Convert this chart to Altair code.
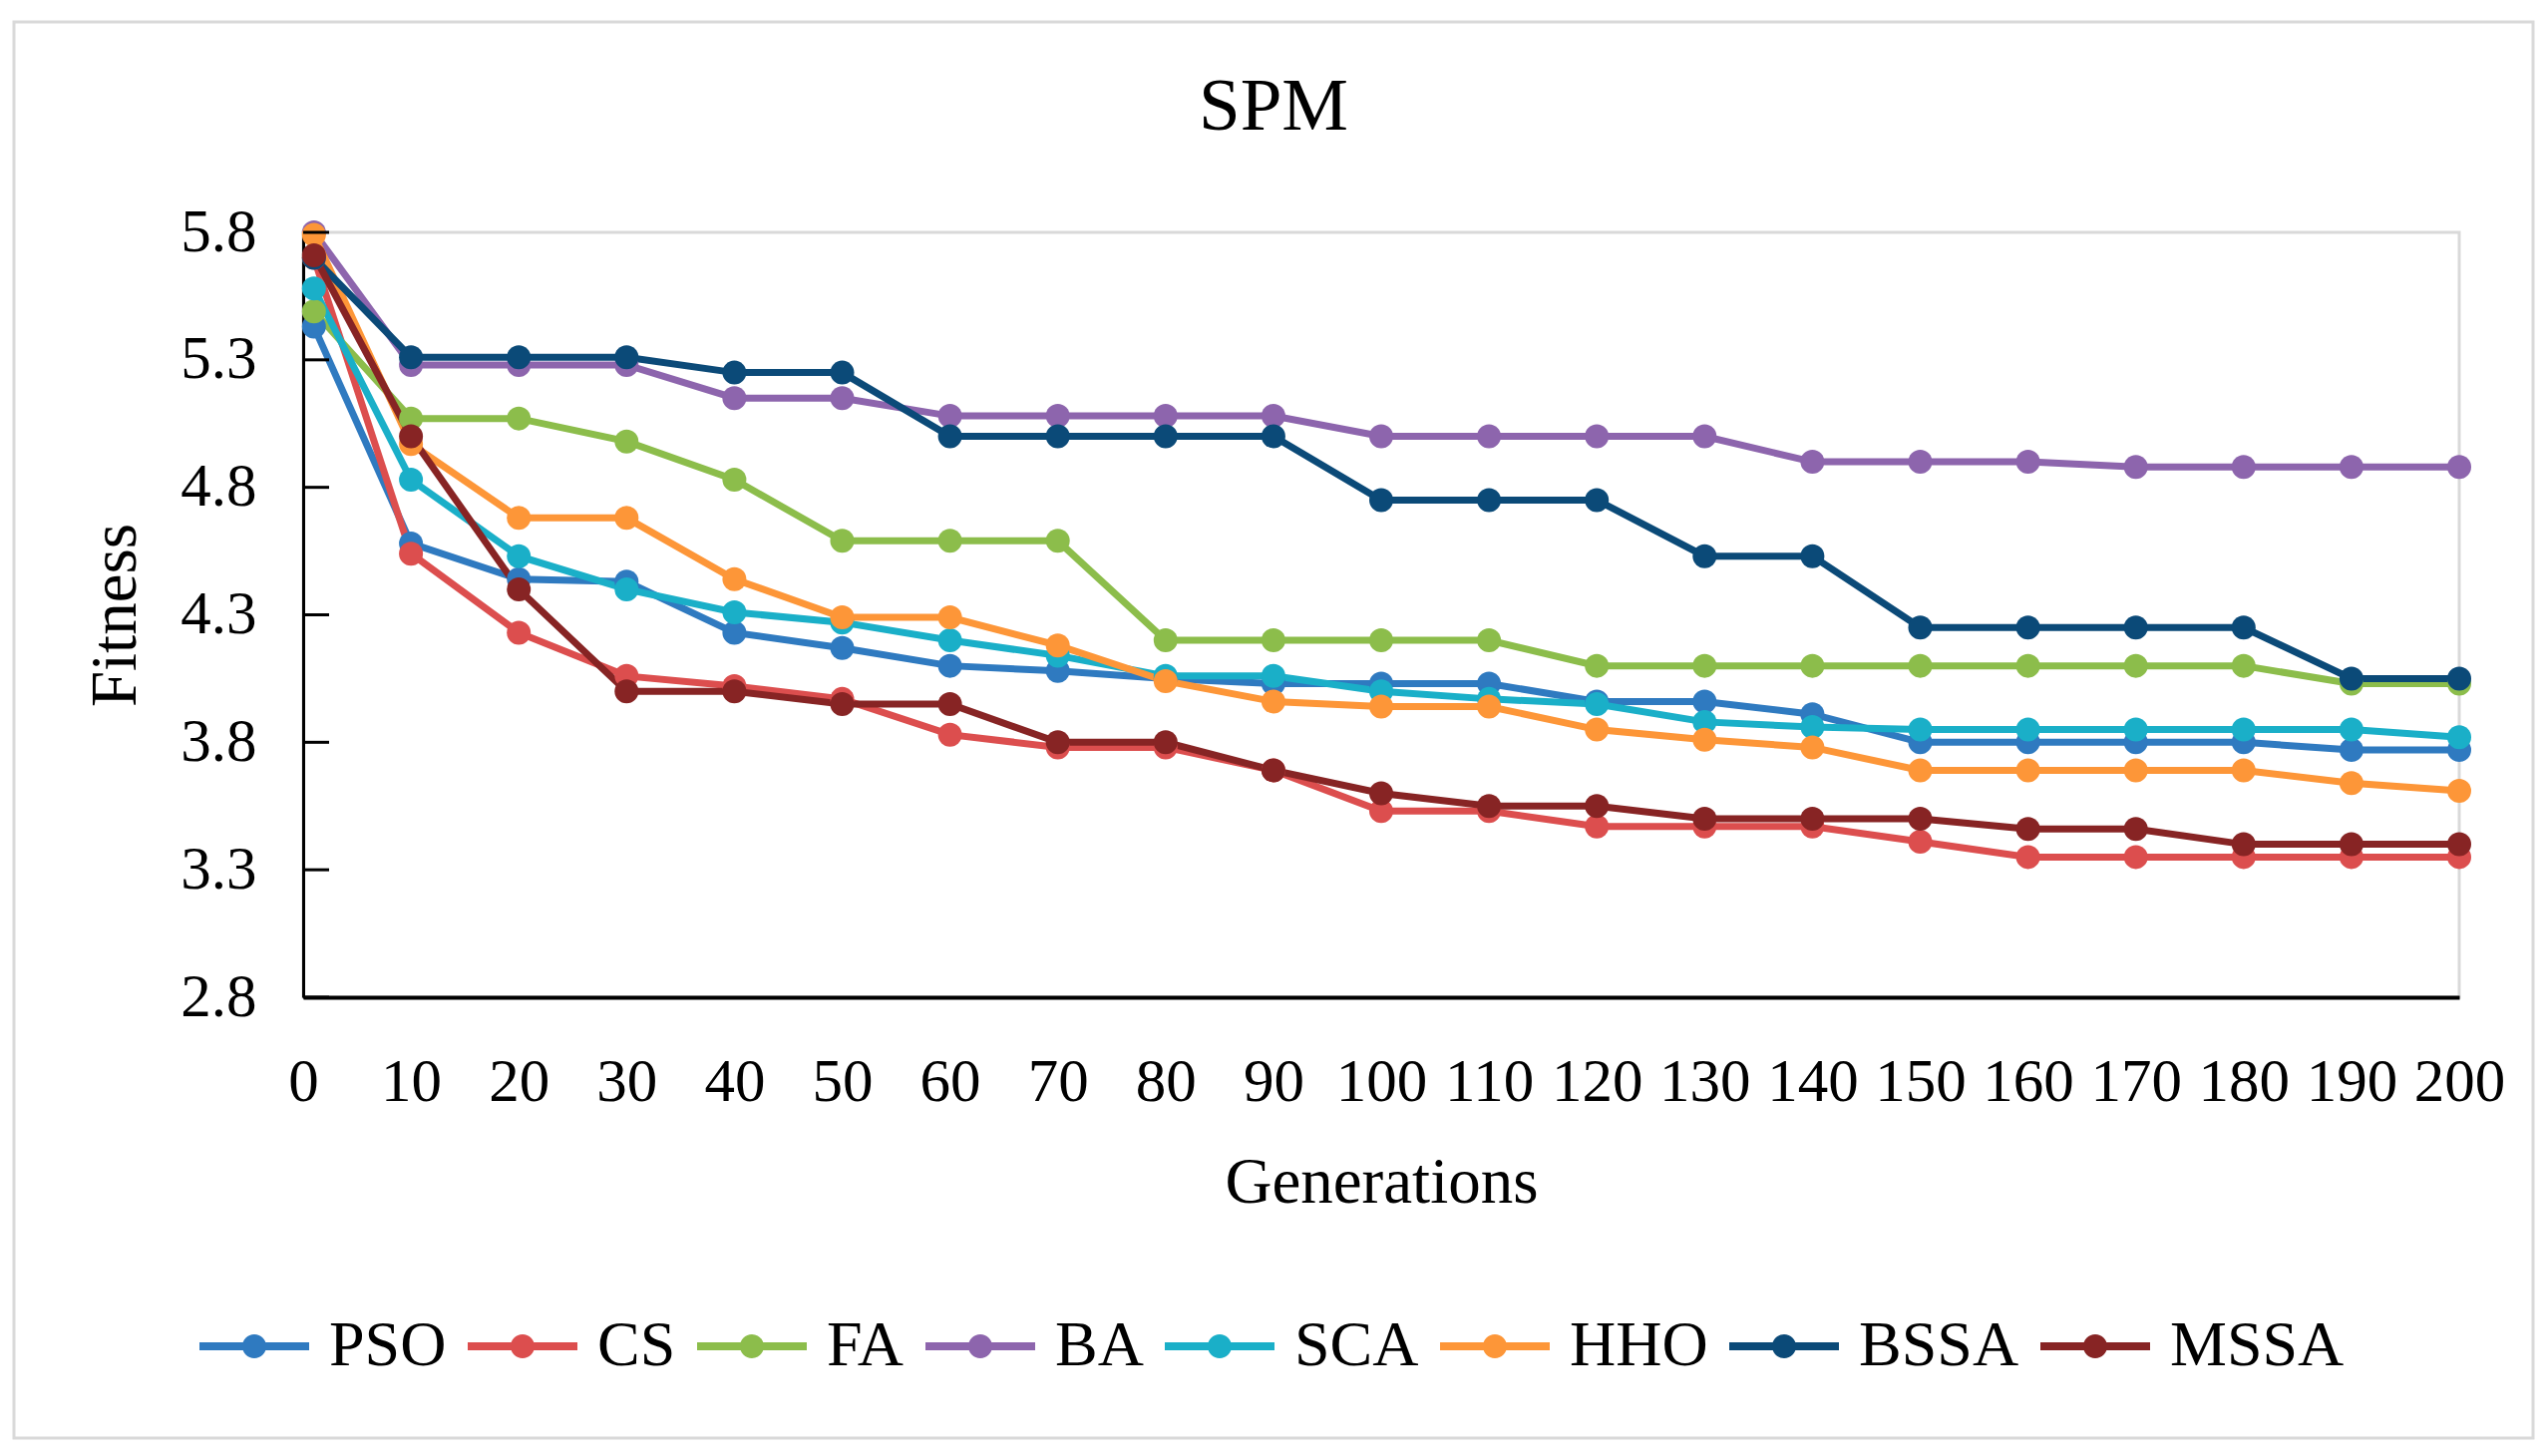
import altair as alt
import pandas as pd

generations = [1, 10, 20, 30, 40, 50, 60, 70, 80, 90, 100,
               110, 120, 130, 140, 150, 160, 170, 180, 190, 200]

series_names = ["PSO", "CS", "FA", "BA", "SCA", "HHO", "BSSA", "MSSA"]
series_colors = ["#2f7ac0", "#dc4e4e", "#8cbd4b", "#8d65ad",
                 "#1aafc8", "#fd9638", "#0b4a78", "#872424"]

PSO = [5.43, 4.58, 4.44, 4.43, 4.23, 4.17, 4.10, 4.08, 4.05, 4.03, 4.03,
       4.03, 3.96, 3.96, 3.91, 3.80, 3.80, 3.80, 3.80, 3.77, 3.77]
CS = [5.70, 4.54, 4.23, 4.06, 4.02, 3.97, 3.83, 3.78, 3.78, 3.69, 3.53,
      3.53, 3.47, 3.47, 3.47, 3.41, 3.35, 3.35, 3.35, 3.35, 3.35]
FA = [5.49, 5.07, 5.07, 4.98, 4.83, 4.59, 4.59, 4.59, 4.20, 4.20, 4.20,
      4.20, 4.10, 4.10, 4.10, 4.10, 4.10, 4.10, 4.10, 4.03, 4.03]
BA = [5.80, 5.28, 5.28, 5.28, 5.15, 5.15, 5.08, 5.08, 5.08, 5.08, 5.00,
      5.00, 5.00, 5.00, 4.90, 4.90, 4.90, 4.88, 4.88, 4.88, 4.88]
SCA = [5.58, 4.83, 4.53, 4.40, 4.31, 4.27, 4.20, 4.14, 4.06, 4.06, 4.00,
       3.97, 3.95, 3.88, 3.86, 3.85, 3.85, 3.85, 3.85, 3.85, 3.82]
HHO = [5.79, 4.97, 4.68, 4.68, 4.44, 4.29, 4.29, 4.18, 4.04, 3.96, 3.94,
       3.94, 3.85, 3.81, 3.78, 3.69, 3.69, 3.69, 3.69, 3.64, 3.61]
BSSA = [5.70, 5.31, 5.31, 5.31, 5.25, 5.25, 5.00, 5.00, 5.00, 5.00, 4.75,
        4.75, 4.75, 4.53, 4.53, 4.25, 4.25, 4.25, 4.25, 4.05, 4.05]
MSSA = [5.71, 5.00, 4.40, 4.00, 4.00, 3.95, 3.95, 3.80, 3.80, 3.69, 3.60,
        3.55, 3.55, 3.50, 3.50, 3.50, 3.46, 3.46, 3.40, 3.40, 3.40]

x_ticks = list(range(0, 201, 10))
y_ticks = [2.8, 3.3, 3.8, 4.3, 4.8, 5.3, 5.8]

FONT = "Liberation Serif"

all_series = [PSO, CS, FA, BA, SCA, HHO, BSSA, MSSA]
rows = []
for i, (name, vals) in enumerate(zip(series_names, all_series)):
    for g, v in zip(generations, vals):
        rows.append({"Algorithm": name, "Generation": g, "Fitness": v, "ord": i})
df = pd.DataFrame(rows)
tick_df = pd.DataFrame({"Fitness": y_ticks})
frame_df = pd.DataFrame({"a": [0]})

xscale = alt.Scale(domain=[0, 200], nice=False, zero=False)
yscale = alt.Scale(domain=[2.8, 5.8], nice=False, zero=False)

x_axis = alt.Axis(values=x_ticks, title="Generations", grid=False, ticks=False,
                  domainColor="black", domainWidth=4,
                  labelFont=FONT, labelFontSize=61, labelColor="black",
                  labelBaseline="alphabetic", labelPadding=103,
                  labelOverlap=False, labelFlush=False,
                  titleFont=FONT, titleFontSize=65, titleFontWeight="normal",
                  titleColor="black", titleY=205, titleBaseline="alphabetic")
y_axis = alt.Axis(values=y_ticks, format=".1f", title="Fitness", grid=False,
                  ticks=False, domainColor="black", domainWidth=3,
                  labelFont=FONT, labelFontSize=61, labelColor="black",
                  labelPadding=47, labelOverlap=False, labelFlush=False,
                  titleFont=FONT, titleFontSize=65, titleFontWeight="normal",
                  titleColor="black", titleX=-169, titleY=383.5,
                  titleAngle=270, titleAlign="center", titleBaseline="alphabetic")

legend_path = ("M-1,-0.073L1,-0.073L1,0.073L-1,0.073Z "
               "M-0.218,0A0.218,0.218 0 1,1 0.218,0A0.218,0.218 0 1,1 -0.218,0Z")

legend = alt.Legend(orient="none", legendX=-104, legendY=1062,
                    direction="horizontal", columns=8, title=None,
                    symbolType=legend_path, symbolSize=12100,
                    symbolStrokeWidth=0, symbolOpacity=1,
                    labelFont=FONT, labelFontSize=64, labelColor="black",
                    labelLimit=500, labelOffset=20, columnPadding=21, padding=0)

frame = alt.Chart(frame_df).mark_rect(
    filled=False, stroke="#d9d9d9", strokeWidth=3
).encode(x=alt.value(-290), x2=alt.value(2236), y=alt.value(-211), y2=alt.value(1209))

lines = alt.Chart(df).mark_line(strokeWidth=7).encode(
    x=alt.X("Generation:Q", scale=xscale, axis=x_axis),
    y=alt.Y("Fitness:Q", scale=yscale, axis=y_axis),
    stroke=alt.Stroke("Algorithm:N",
                      scale=alt.Scale(domain=series_names, range=series_colors),
                      legend=None),
    detail="Algorithm:N",
    order="Generation:Q",
)

points = alt.Chart(df).mark_circle(size=576, opacity=1).encode(
    x=alt.X("Generation:Q", scale=xscale, axis=x_axis),
    y=alt.Y("Fitness:Q", scale=yscale, axis=y_axis),
    color=alt.Color("Algorithm:N",
                    scale=alt.Scale(domain=series_names, range=series_colors),
                    legend=legend),
)

ticks = alt.Chart(tick_df).mark_rule(color="black", strokeWidth=3).encode(
    y=alt.Y("Fitness:Q", scale=yscale, axis=y_axis),
    x=alt.value(0), x2=alt.value(26),
)

chart = alt.layer(frame, lines, points, ticks).properties(
    width=2162, height=767,
    title=alt.TitleParams("SPM", font=FONT, fontSize=75, fontWeight="normal",
                          color="black", anchor="middle", frame="group",
                          dx=-108, offset=0, dy=184, baseline="alphabetic"),
    autosize=alt.AutoSizeParams(type="none"),
    padding={"left": 296, "top": 225, "right": 76, "bottom": 444},
    background="white",
).resolve_scale(color="independent", stroke="independent").configure_view(
    stroke="#d9d9d9", strokeWidth=3)

chart.save("out.html", embed_options={"renderer": "svg", "actions": False})
